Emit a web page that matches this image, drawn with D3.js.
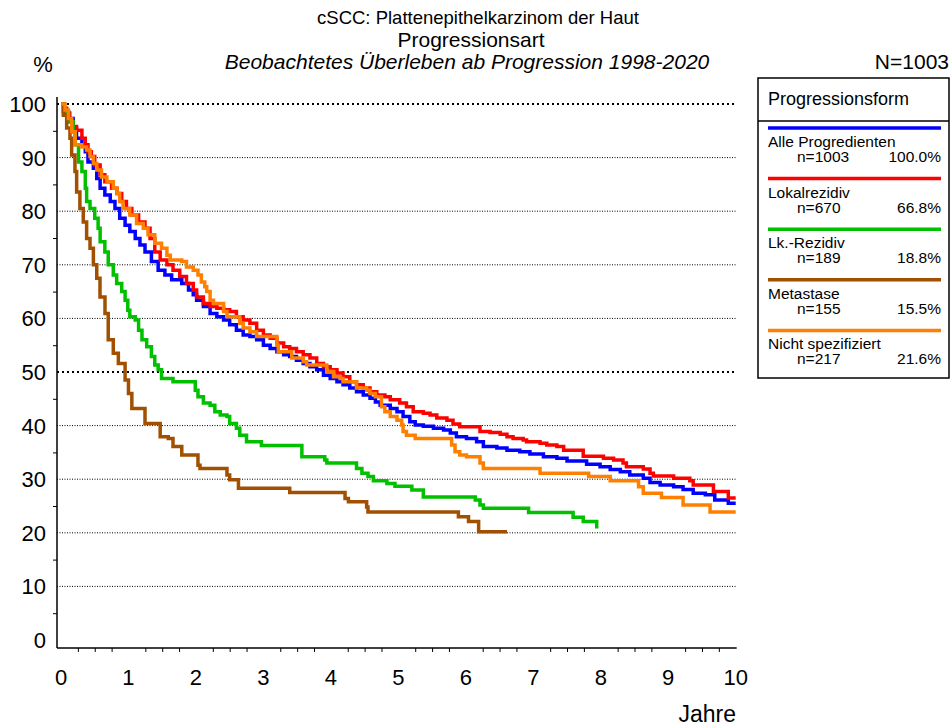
<!DOCTYPE html>
<html>
<head>
<meta charset="utf-8">
<script src="https://cdn.jsdelivr.net/npm/d3@7"></script>
<style>
  body { margin: 0; background: #fff; }
  text { font-family: Arial, 'Liberation Sans', sans-serif; fill: #000; }
</style>
</head>
<body>
<div id="main"></div>
<script>
// Kaplan-Meier steps, [Jahre, Prozent]
var alle = [[0, 100], [0.05, 98.5], [0.11, 97.3], [0.18, 95.5], [0.23, 93.6], [0.31, 92.4], [0.36, 91.1], [0.40, 89.2], [0.48, 88.0], [0.53, 86.1], [0.58, 84.3], [0.65, 83.0], [0.73, 81.8], [0.80, 80.5], [0.87, 78.7], [0.95, 77.4], [1.02, 76.2], [1.10, 74.9], [1.17, 73.7], [1.245, 72.4], [1.34, 70.6], [1.44, 69.0], [1.54, 68.1], [1.64, 67.2], [1.79, 66.5], [1.89, 65.3], [1.96, 64.4], [2.01, 63.4], [2.11, 62.2], [2.21, 60.9], [2.31, 60.3], [2.41, 59.7], [2.50, 58.8], [2.60, 57.8], [2.70, 56.9], [2.80, 56.6], [2.90, 56.0], [3.0, 55.0], [3.10, 54.4], [3.20, 53.8], [3.30, 53.2], [3.39, 52.9], [3.49, 52.2], [3.59, 51.6], [3.69, 51.0], [3.79, 50.4], [3.89, 49.4], [3.99, 48.8], [4.09, 48.2], [4.18, 47.6], [4.28, 47.0], [4.38, 46.3], [4.48, 45.7], [4.58, 45.1], [4.66, 44.4], [4.73, 43.8], [4.88, 43.2], [4.98, 42.6], [5.07, 41.7], [5.17, 40.7], [5.25, 40.1], [5.37, 39.9], [5.52, 39.5], [5.67, 39.2], [5.77, 38.6], [5.86, 37.9], [6.01, 37.6], [6.16, 37.0], [6.26, 36.1], [6.46, 35.8], [6.61, 35.4], [6.80, 35.1], [6.95, 34.7], [7.15, 34.2], [7.35, 33.9], [7.50, 33.4], [7.79, 32.8], [7.99, 32.3], [8.14, 31.8], [8.29, 31.4], [8.43, 30.8], [8.63, 30.2], [8.73, 29.4], [8.88, 28.9], [9.08, 28.6], [9.22, 28.1], [9.37, 27.4], [9.55, 27.1], [9.69, 26.1], [9.89, 25.5], [10.0, 25.5]]

var lokal = [[0, 100], [0.04, 99.2], [0.084, 98.3], [0.13, 96.7], [0.18, 95.8], [0.23, 95.1], [0.31, 93.6], [0.36, 92.4], [0.40, 91.1], [0.45, 90.2], [0.50, 88.6], [0.58, 86.8], [0.65, 85.5], [0.75, 84.3], [0.83, 83.3], [0.90, 81.8], [0.97, 80.5], [1.05, 79.3], [1.15, 78.0], [1.245, 76.8], [1.32, 74.9], [1.39, 72.4], [1.47, 70.9], [1.57, 70.0], [1.66, 69.0], [1.76, 67.8], [1.86, 66.5], [1.96, 65.3], [2.01, 64.0], [2.11, 62.8], [2.21, 62.2], [2.31, 61.9], [2.41, 61.6], [2.50, 61.3], [2.60, 60.3], [2.70, 59.7], [2.80, 59.1], [2.90, 57.8], [3.0, 56.9], [3.10, 56.3], [3.20, 55.4], [3.30, 54.7], [3.39, 54.4], [3.49, 53.8], [3.59, 53.2], [3.69, 52.6], [3.79, 51.6], [3.89, 51.0], [3.99, 50.4], [4.09, 49.8], [4.18, 49.1], [4.28, 48.2], [4.38, 47.6], [4.48, 47.0], [4.58, 46.3], [4.68, 45.7], [4.80, 45.4], [4.88, 44.8], [5.02, 44.2], [5.12, 43.5], [5.22, 42.6], [5.37, 42.3], [5.47, 42.0], [5.57, 41.4], [5.72, 41.0], [5.81, 40.3], [5.91, 39.8], [6.21, 38.9], [6.36, 38.7], [6.51, 38.4], [6.61, 37.9], [6.70, 37.6], [6.85, 37.3], [6.90, 37.0], [7.10, 36.7], [7.20, 36.4], [7.35, 36.1], [7.45, 35.4], [7.74, 34.3], [8.04, 33.9], [8.19, 33.6], [8.33, 33.0], [8.38, 32.3], [8.63, 31.9], [8.73, 31.1], [8.78, 30.6], [9.08, 30.2], [9.32, 29.7], [9.37, 28.9], [9.67, 27.7], [9.89, 26.5], [10.0, 26.5]]

var lk = [[0, 100], [0.034, 98.6], [0.11, 96.7], [0.18, 94.8], [0.21, 92.4], [0.26, 89.2], [0.31, 87.4], [0.36, 84.3], [0.38, 81.8], [0.43, 80.5], [0.50, 78.7], [0.55, 76.8], [0.58, 74.3], [0.65, 72.4], [0.70, 70.0], [0.775, 68.1], [0.825, 66.5], [0.90, 65.0], [0.95, 63.4], [0.99, 61.5], [1.02, 60.3], [1.10, 59.7], [1.15, 57.8], [1.20, 56.0], [1.27, 54.7], [1.34, 52.9], [1.39, 51.3], [1.44, 50.4], [1.49, 48.8], [1.66, 48.2], [1.99, 46.6], [2.03, 45.4], [2.11, 44.2], [2.21, 43.8], [2.28, 42.6], [2.36, 42.0], [2.46, 41.7], [2.50, 40.4], [2.60, 39.5], [2.65, 38.2], [2.75, 37.0], [2.97, 36.3], [3.57, 34.2], [3.91, 33.6], [3.94, 33.0], [4.38, 32.0], [4.46, 31.1], [4.55, 30.5], [4.63, 29.7], [4.83, 29.2], [4.95, 28.7], [5.2, 28.0], [5.37, 26.7], [6.14, 26.1], [6.21, 25.2], [6.26, 24.6], [6.93, 23.8], [7.59, 22.9], [7.74, 22.1], [7.94, 20.8]]

var metastase = [[0, 100], [0.034, 97.9], [0.084, 95.5], [0.133, 93.6], [0.158, 90.5], [0.207, 87.4], [0.232, 83.6], [0.28, 80.5], [0.33, 78.0], [0.38, 74.9], [0.43, 73.1], [0.48, 70.0], [0.53, 67.5], [0.578, 64.0], [0.652, 60.9], [0.70, 56.0], [0.775, 53.5], [0.85, 51.6], [0.95, 48.5], [1.0, 46.0], [1.05, 43.2], [1.245, 40.4], [1.47, 37.9], [1.59, 37.6], [1.66, 36.1], [1.79, 34.5], [2.03, 32.6], [2.06, 32.0], [2.46, 30.8], [2.5, 29.9], [2.63, 28.3], [3.39, 27.5], [4.21, 26.4], [4.26, 25.8], [4.53, 24.8], [4.55, 23.9], [5.89, 23.0], [6.04, 22.1], [6.19, 20.2], [6.61, 20.2]]

var nicht = [[0, 100], [0.06, 98.9], [0.11, 97.3], [0.16, 94.8], [0.21, 92.4], [0.31, 92.0], [0.38, 91.4], [0.43, 90.2], [0.48, 88.9], [0.53, 87.7], [0.60, 86.4], [0.68, 85.5], [0.775, 84.3], [0.83, 83.3], [0.87, 81.8], [0.92, 80.5], [1.02, 79.3], [1.12, 77.7], [1.22, 76.8], [1.29, 75.6], [1.39, 74.0], [1.49, 73.1], [1.57, 71.8], [1.62, 70.9], [1.79, 70.6], [1.86, 69.6], [1.96, 69.0], [2.03, 68.1], [2.08, 66.8], [2.13, 65.9], [2.16, 65.0], [2.21, 63.4], [2.26, 62.8], [2.41, 61.3], [2.46, 60.3], [2.65, 59.1], [2.70, 58.2], [2.80, 57.5], [2.90, 56.6], [3.20, 55.0], [3.22, 53.8], [3.42, 52.6], [3.59, 51.9], [3.64, 51.3], [3.94, 50.1], [4.04, 49.1], [4.14, 48.8], [4.18, 48.2], [4.38, 47.0], [4.53, 46.6], [4.58, 46.0], [4.66, 45.4], [4.75, 43.5], [4.80, 42.6], [4.88, 41.7], [4.98, 41.0], [5.05, 40.1], [5.07, 38.9], [5.12, 38.2], [5.25, 37.6], [5.79, 36.4], [5.84, 35.1], [5.91, 34.5], [6.01, 34.2], [6.21, 33.0], [6.26, 32.0], [7.10, 31.1], [7.82, 30.5], [8.14, 29.7], [8.56, 28.6], [8.63, 27.4], [8.90, 26.6], [9.22, 25.2], [9.62, 23.9], [10.0, 23.9]]

var names = ['Alle Progredienten', 'Lokalrezidiv', 'Lk.-Rezidiv', 'Metastase', 'Nicht spezifiziert']
var counts = [1003, 670, 189, 155, 217]
var shares = ['100.0%', '66.8%', '18.8%', '15.5%', '21.6%']
var yTicks = [0, 10, 20, 30, 40, 50, 60, 70, 80, 90, 100]
var xTicks = [0, 1, 2, 3, 4, 5, 6, 7, 8, 9, 10]

var series = [alle, lokal, lk, metastase, nicht]
var colors = ['#0000ff', '#ff0000', '#00c000', '#a05000', '#ff8000']

var w = 950
var h = 726
var svg = d3.select('div#main').append('svg')
  .attr('width', w)
  .attr('height', h)
  .attr('viewBox', [0, 0, w, h].join(' '))

var x = d3.scaleLinear().domain([0, 10]).range([61, 735.7])
var y = d3.scaleLinear().domain([0, 100]).range([640, 104])

// titles
svg.append('text').text('cSCC: Plattenepithelkarzinom der Haut')
  .attr('x', 478).attr('y', 24).attr('text-anchor', 'middle').style('font-size', '18.5px')
svg.append('text').text('Progressionsart')
  .attr('x', 471).attr('y', 47).attr('text-anchor', 'middle').style('font-size', '21px')
svg.append('text').text('Beobachtetes Überleben ab Progression 1998-2020')
  .attr('x', 467).attr('y', 69).attr('text-anchor', 'middle').style('font-size', '21px')
  .style('font-style', 'italic')
svg.append('text').text('%')
  .attr('x', 43).attr('y', 72).attr('text-anchor', 'middle').style('font-size', '22px')
svg.append('text').text('N=1003')
  .attr('x', 949).attr('y', 69).attr('text-anchor', 'end').style('font-size', '21px')

// grid
yTicks.filter(function (v) { return v > 0 }).forEach(function (v) {
  var bold = (v === 50 || v === 100)
  svg.append('line')
    .attr('x1', 57).attr('x2', 737)
    .attr('y1', y(v)).attr('y2', y(v))
    .attr('stroke', '#000')
    .attr('stroke-width', bold ? 2 : 1)
    .attr('stroke-dasharray', bold ? '2,3' : '1,1.5')
})

// y axis
var yAxis = svg.append('g').attr('transform', 'translate(57,0)')
yAxis.call(d3.axisLeft(y).tickValues(yTicks).tickSize(6).tickFormat(''))
yAxis.call(d3.axisLeft(y).tickValues(d3.range(5, 100, 10)).tickSize(4).tickFormat(''))
yAxis.selectAll('.domain').remove()
yAxis.append('line').attr('x1', 0).attr('x2', 0).attr('y1', y(100) - 7).attr('y2', y(0) + 8)
  .attr('stroke', '#000').attr('stroke-width', 1.5)
yTicks.forEach(function (v) {
  svg.append('text').text(v)
    .attr('x', 46).attr('y', y(v)).attr('dy', '0.36em')
    .attr('text-anchor', 'end').style('font-size', '22px')
})

// x axis
var xAxis = svg.append('g').attr('transform', 'translate(0,' + (y(0) + 8) + ')')
xAxis.call(d3.axisBottom(x).tickValues(xTicks).tickSize(6).tickFormat(''))
xAxis.call(d3.axisBottom(x).tickValues(d3.range(0, 10, 0.25).filter(function (v) { return v % 1 !== 0 })).tickSize(4).tickFormat(''))
xAxis.selectAll('.domain').remove()
xAxis.append('line').attr('x1', 57).attr('x2', x(10) + 1).attr('y1', 0).attr('y2', 0)
  .attr('stroke', '#000').attr('stroke-width', 1.5)
xTicks.forEach(function (v) {
  svg.append('text').text(v)
    .attr('x', x(v)).attr('y', 685)
    .attr('text-anchor', 'middle').style('font-size', '22px')
})
svg.append('text').text('Jahre')
  .attr('x', 736).attr('y', 722).attr('text-anchor', 'end').style('font-size', '23px')

// curves
var line = d3.line()
  .x(function (d) { return x(d[0]) })
  .y(function (d) { return y(d[1]) })
  .curve(d3.curveStepAfter)

series.forEach(function (s, i) {
  svg.append('path')
    .attr('d', line(s))
    .attr('fill', 'none')
    .attr('stroke', colors[i])
    .attr('stroke-width', 3.5)
    .attr('stroke-linejoin', 'miter')
})

// legend
var lg = svg.append('g').attr('transform', 'translate(758,78)')
lg.append('rect').attr('x', 0).attr('y', 0).attr('width', 191).attr('height', 300)
  .attr('fill', '#fff').attr('stroke', '#000').attr('stroke-width', 1.5)
lg.append('line').attr('x1', 0).attr('x2', 191).attr('y1', 43).attr('y2', 43)
  .attr('stroke', '#000').attr('stroke-width', 1.5)
lg.append('text').text('Progressionsform').attr('x', 10).attr('y', 27).style('font-size', '18px')
names.forEach(function (n, i) {
  var g = lg.append('g').attr('transform', 'translate(0,' + (50 + i * 50.6) + ')')
  g.append('line').attr('x1', 10).attr('x2', 183).attr('y1', 0).attr('y2', 0)
    .attr('stroke', colors[i]).attr('stroke-width', 3.5)
  g.append('text').text(n).attr('x', 10).attr('y', 19).style('font-size', '15.5px')
  g.append('text').text('n=' + counts[i]).attr('x', 39).attr('y', 34).style('font-size', '15.5px')
  g.append('text').text(shares[i]).attr('x', 183).attr('y', 34)
    .attr('text-anchor', 'end').style('font-size', '15.5px')
})
</script>
</body>
</html>
